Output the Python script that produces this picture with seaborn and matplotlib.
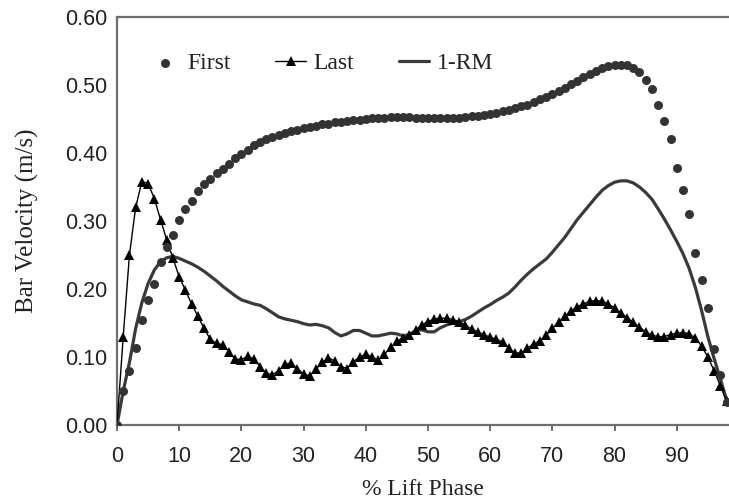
import numpy as np
import pandas as pd
import matplotlib
matplotlib.use("Agg")
import matplotlib.pyplot as plt
from matplotlib.ticker import FormatStrFormatter
import seaborn as sns

lift_phase = list(range(0, 99))

first = [0.000, 0.050, 0.080, 0.113, 0.155, 0.184, 0.208, 0.240, 0.262, 0.280,
         0.302, 0.317, 0.330, 0.344, 0.354, 0.362, 0.371, 0.377, 0.384, 0.392,
         0.399, 0.405, 0.411, 0.416, 0.420, 0.423, 0.426, 0.429, 0.432, 0.434,
         0.436, 0.438, 0.440, 0.442, 0.443, 0.445, 0.446, 0.447, 0.448, 0.449,
         0.450, 0.451, 0.452, 0.452, 0.453, 0.453, 0.453, 0.453, 0.452, 0.452,
         0.451, 0.451, 0.451, 0.451, 0.452, 0.452, 0.453, 0.454, 0.455, 0.456,
         0.458, 0.459, 0.461, 0.463, 0.466, 0.469, 0.471, 0.475, 0.479, 0.483,
         0.487, 0.491, 0.496, 0.501, 0.506, 0.511, 0.516, 0.521, 0.525, 0.528,
         0.530, 0.530, 0.529, 0.525, 0.519, 0.508, 0.494, 0.470, 0.447, 0.421,
         0.378, 0.346, 0.311, 0.253, 0.213, 0.172, 0.112, 0.074, 0.034]

last = [0.000, 0.130, 0.250, 0.320, 0.358, 0.355, 0.333, 0.302, 0.272, 0.245,
        0.218, 0.198, 0.178, 0.160, 0.142, 0.126, 0.120, 0.118, 0.108, 0.097,
        0.096, 0.101, 0.097, 0.086, 0.076, 0.074, 0.080, 0.089, 0.091, 0.083,
        0.075, 0.072, 0.082, 0.092, 0.099, 0.094, 0.086, 0.083, 0.093, 0.100,
        0.104, 0.100, 0.096, 0.104, 0.114, 0.123, 0.128, 0.132, 0.140, 0.147,
        0.152, 0.156, 0.157, 0.157, 0.155, 0.152, 0.147, 0.141, 0.137, 0.133,
        0.129, 0.126, 0.122, 0.113, 0.106, 0.106, 0.113, 0.119, 0.124, 0.132,
        0.142, 0.152, 0.160, 0.168, 0.174, 0.178, 0.182, 0.183, 0.182, 0.178,
        0.172, 0.165, 0.158, 0.151, 0.144, 0.137, 0.132, 0.130, 0.130, 0.133,
        0.135, 0.136, 0.134, 0.128, 0.116, 0.100, 0.080, 0.058, 0.035]

one_rm = [0.000, 0.050, 0.092, 0.142, 0.180, 0.208, 0.228, 0.240, 0.246, 0.248,
          0.245, 0.241, 0.237, 0.232, 0.226, 0.219, 0.212, 0.204, 0.197, 0.190,
          0.184, 0.181, 0.178, 0.176, 0.171, 0.165, 0.159, 0.156, 0.154, 0.152,
          0.149, 0.147, 0.148, 0.146, 0.143, 0.136, 0.131, 0.134, 0.139, 0.139,
          0.135, 0.131, 0.131, 0.133, 0.135, 0.134, 0.131, 0.133, 0.139, 0.140,
          0.137, 0.137, 0.143, 0.147, 0.150, 0.152, 0.155, 0.160, 0.166, 0.172,
          0.177, 0.183, 0.188, 0.194, 0.203, 0.213, 0.222, 0.230, 0.237, 0.244,
          0.254, 0.265, 0.276, 0.289, 0.302, 0.313, 0.324, 0.335, 0.345, 0.352,
          0.357, 0.359, 0.359, 0.356, 0.350, 0.342, 0.332, 0.318, 0.303, 0.287,
          0.270, 0.252, 0.230, 0.202, 0.168, 0.130, 0.098, 0.068, 0.037]

series_labels = ["First", "Last", "1-RM"]
x_ticks = [0, 10, 20, 30, 40, 50, 60, 70, 80, 90]
y_ticks = [0.0, 0.1, 0.2, 0.3, 0.4, 0.5, 0.6]

sns.set_theme(style="white")
serif = ["Liberation Serif", "DejaVu Serif"]
sans = ["Liberation Sans", "DejaVu Sans"]

fig = plt.figure(figsize=(7.29, 4.99), dpi=100)
ax = fig.add_axes([0.1605, 0.1483, 0.8395, 0.8177])

df = pd.DataFrame({"x": lift_phase, "first": first, "last": last, "rm": one_rm})

sns.lineplot(data=df, x="x", y="rm", ax=ax, color="#3a3a3a", linewidth=2.3,
             label=series_labels[2], zorder=2)
sns.lineplot(data=df, x="x", y="last", ax=ax, color="black", linewidth=1.0,
             marker="^", markersize=7, markeredgewidth=0, label=series_labels[1], zorder=3)
sns.scatterplot(data=df, x="x", y="first", ax=ax, color="#333333", s=42,
                linewidth=0, label=series_labels[0], zorder=4)

ax.set_xlim(0, 98.4)
ax.set_ylim(0, 0.6)
ax.set_xticks(x_ticks)
ax.set_yticks(y_ticks)
ax.yaxis.set_major_formatter(FormatStrFormatter("%.2f"))

for side in ["left", "bottom", "top"]:
    ax.spines[side].set_visible(True)
    ax.spines[side].set_color("#6e6e6e")
    ax.spines[side].set_linewidth(1.6)
ax.spines["right"].set_visible(False)

ax.tick_params(axis="x", direction="out", length=4, width=1.2, color="#555555",
               pad=11, labelsize=15.5, bottom=True)
ax.tick_params(axis="y", length=0, pad=7, labelsize=15.5, left=False)
for lab in ax.get_xticklabels() + ax.get_yticklabels():
    lab.set_family(sans)
    lab.set_color("#222222")

ax.set_xlabel("% Lift Phase", family=serif, fontsize=17, color="#222222", labelpad=9)
ax.set_ylabel("Bar Velocity (m/s)", family=serif, fontsize=18, color="#222222", labelpad=19)

handles, labels = ax.get_legend_handles_labels()
order = [labels.index(l) for l in series_labels]
leg = ax.legend([handles[i] for i in order], [labels[i] for i in order],
                loc="center left", bbox_to_anchor=(0.053, 0.887), ncol=3,
                frameon=False, handlelength=1.3, handletextpad=0.3,
                columnspacing=1.9, borderpad=0, borderaxespad=0,
                prop={"family": serif, "size": 17})
for t in leg.get_texts():
    t.set_color("#222222")

fig.savefig("out.png", dpi=100)
